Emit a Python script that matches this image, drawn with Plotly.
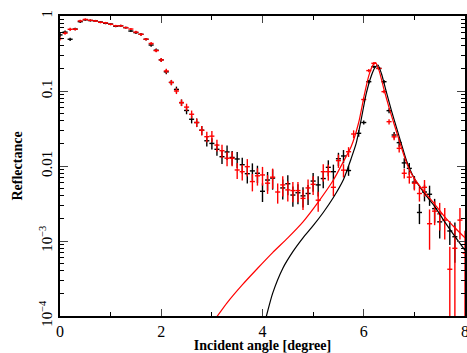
import plotly.graph_objects as go

# ---------------- data ----------------
angle = [round(0.1 * i, 1) for i in range(81)]  # 0.0 ... 8.0 deg, one point per 0.1 deg bin

red_refl = [
    0.50, 0.59, 0.665, 0.665, 0.86, 0.90, 0.876, 0.86, 0.824, 0.81,
    0.775, 0.74, 0.74, 0.70, 0.67, 0.61, 0.57, 0.49, 0.43, 0.345,
    0.26, 0.185, 0.13, 0.10, 0.07, 0.061, 0.049, 0.038, 0.030, 0.0246,
    0.025, 0.019, 0.016, 0.0127, 0.0127, 0.00885, 0.0084, 0.0098, 0.0062, 0.0074,
    0.0076, 0.0059, 0.0071, 0.0045, 0.0056, 0.0048, 0.0047, 0.0047, 0.0037, 0.0051,
    0.0057, 0.0035, 0.0084, 0.0084, 0.0052, 0.0118, 0.0088, 0.0155, 0.0267, None,
    0.077, 0.187, 0.234, 0.20, 0.098, 0.039, 0.0245, 0.0172, 0.008, 0.0071,
    0.0059, 0.0043, 0.0052, 0.0017, 0.0025, 0.0023, 0.0019, 0.00042, 0.0008, 0.0019,
    0.00069,
]
red_relerr = [
    0.06, 0.05, 0.05, 0.04, 0.04, 0.03, 0.03, 0.03, 0.03, 0.03,
    0.03, 0.03, 0.03, 0.03, 0.03, 0.04, 0.04, 0.04, 0.05, 0.05,
    0.06, 0.07, 0.08, 0.09, 0.10, 0.11, 0.12, 0.13, 0.14, 0.16,
    0.17, 0.18, 0.20, 0.22, 0.22, 0.24, 0.24, 0.26, 0.26, 0.26,
    0.28, 0.28, 0.30, 0.30, 0.30, 0.30, 0.30, 0.30, 0.30, 0.30,
    0.28, 0.30, 0.26, 0.24, 0.24, 0.20, 0.20, 0.15, 0.12, 0.10,
    0.06, 0.05, 0.04, 0.04, 0.05, 0.08, 0.10, 0.12, 0.15, 0.18,
    0.20, 0.22, 0.25, 0.55, 0.35, 0.40, 0.45, 0.99, 0.99, 0.45,
    0.99,
]

black_refl = [
    0.56, 0.61, 0.49, 0.67, 0.84, 0.89, 0.87, 0.86, 0.83, 0.80,
    0.78, 0.73, 0.74, 0.70, 0.63, 0.60, 0.57, 0.49, 0.41, 0.35,
    0.26, 0.18, 0.13, 0.105, 0.07, 0.055, 0.042, 0.038, 0.030, 0.0217,
    0.020, 0.0167, 0.0133, 0.0154, 0.013, 0.0124, 0.0104, 0.0079, 0.0086, 0.0080,
    0.0046, 0.0065, 0.0069, None, 0.0051, 0.0058, 0.0041, 0.0044, 0.0040, 0.0043,
    0.0063, 0.0056, 0.0068, 0.0096, 0.0084, 0.0125, 0.0136, 0.0087, None, 0.0273,
    0.038, 0.133, 0.211, 0.20, 0.133, 0.0547, 0.0259, 0.0205, 0.011, 0.0093,
    0.0061, 0.0024, 0.0045, 0.0042, 0.0027, 0.0018, None, 0.00136, 0.00114, None,
    None,
]
black_relerr = [
    0.06, 0.05, 0.05, 0.04, 0.04, 0.03, 0.03, 0.03, 0.03, 0.03,
    0.03, 0.03, 0.03, 0.03, 0.03, 0.04, 0.04, 0.04, 0.05, 0.05,
    0.06, 0.07, 0.08, 0.09, 0.10, 0.11, 0.12, 0.13, 0.14, 0.16,
    0.17, 0.18, 0.20, 0.22, 0.22, 0.24, 0.24, 0.26, 0.26, 0.26,
    0.28, 0.28, 0.30, 0.30, 0.30, 0.30, 0.30, 0.30, 0.30, 0.30,
    0.28, 0.30, 0.26, 0.24, 0.24, 0.20, 0.20, 0.15, 0.12, 0.10,
    0.06, 0.05, 0.04, 0.04, 0.05, 0.08, 0.10, 0.12, 0.15, 0.18,
    0.20, 0.30, 0.25, 0.30, 0.35, 0.40, 0.45, 0.35, 0.55, 0.45,
    0.45,
]
bin_halfwidth = 0.05

# model curves
black_model_x = [4.06, 4.2, 4.4, 4.6, 4.8, 5.0, 5.2, 5.4, 5.6, 5.75, 5.85, 5.95, 6.05,
                 6.15, 6.22, 6.28, 6.35, 6.45, 6.55, 6.65, 6.75, 6.85, 7.0, 7.2,
                 7.4, 7.6, 7.8, 8.0]
black_model_y = [9e-5, 2.0e-4, 4.3e-4, 7.2e-4, 1.1e-3, 1.6e-3, 2.4e-3, 3.8e-3, 6.6e-3,
                 0.0125, 0.020, 0.042, 0.093, 0.16, 0.205, 0.222, 0.17, 0.095, 0.054,
                 0.032, 0.019, 0.0115, 0.0068, 0.0043, 0.0029, 0.0018, 0.00115, 0.00075]
red_model_x = [3.06, 3.3, 3.6, 3.9, 4.2, 4.5, 4.8, 5.1, 5.4, 5.6, 5.75, 5.9, 6.01,
               6.1, 6.17, 6.23, 6.3, 6.4, 6.5, 6.6, 6.7, 6.8, 6.9, 7.0, 7.2, 7.4,
               7.6, 7.8, 8.0]
red_model_y = [9e-5, 1.5e-4, 2.6e-4, 4.3e-4, 7.0e-4, 1.1e-3, 1.8e-3, 3.3e-3, 6.5e-3,
               0.0115, 0.018, 0.038, 0.088, 0.16, 0.215, 0.239, 0.19, 0.105, 0.06,
               0.036, 0.022, 0.0135, 0.009, 0.0068, 0.0045, 0.0031, 0.0021, 0.0015,
               0.0011]

y_tickvals = [1e-4, 1e-3, 1e-2, 1e-1, 1]
y_ticktext = ["10<sup>\u22124</sup>", "10<sup>\u22123</sup>", "0.01", "0.1", "1"]
x_tickvals = [0, 2, 4, 6, 8]

# ---------------- figure ----------------
def errs(vals, rel):
    return [None if v is None else v * r for v, r in zip(vals, rel)]

fig = go.Figure()

for vals, rel, col in [(black_refl, black_relerr, "black"), (red_refl, red_relerr, "red")]:
    fig.add_trace(go.Scatter(
        x=angle, y=vals, mode="markers",
        marker=dict(size=1, color=col, opacity=0),
        error_y=dict(type="data", array=errs(vals, rel), visible=True,
                     thickness=1.4, width=0, color=col),
        error_x=dict(type="constant", value=bin_halfwidth, visible=True,
                     thickness=1.4, width=0, color=col),
        showlegend=False, hoverinfo="x+y",
    ))

fig.add_trace(go.Scatter(x=black_model_x, y=black_model_y, mode="lines",
                         line=dict(color="black", width=1.2, shape="spline", smoothing=0.6),
                         showlegend=False))
fig.add_trace(go.Scatter(x=red_model_x, y=red_model_y, mode="lines",
                         line=dict(color="red", width=1.2, shape="spline", smoothing=0.6),
                         showlegend=False))

font_family = "Liberation Serif, Times New Roman, serif"

fig.update_layout(
    width=467, height=353,
    margin=dict(l=59.5, r=2, t=16, b=37, pad=0),
    paper_bgcolor="white", plot_bgcolor="white",
    font=dict(family=font_family, color="black", size=15),
    xaxis=dict(
        range=[0, 8], tickvals=x_tickvals, ticks="inside", ticklen=7, tickwidth=1.3,
        showline=True, linecolor="black", linewidth=1.5, mirror="allticks",
        showgrid=False, zeroline=False, ticklabeloverflow="allow",
        tickfont=dict(size=16, family=font_family),
        minor=dict(tickvals=[1, 3, 5, 7], ticks="inside", ticklen=4, tickwidth=1.1,
                   tickcolor="black", showgrid=False),
        title=dict(text="<b>Incident angle [degree]</b>", standoff=6,
                   font=dict(size=14, family=font_family)),
        automargin=False,
    ),
    yaxis=dict(
        type="log", range=[-4, 0], tickvals=y_tickvals, ticktext=y_ticktext,
        tickangle=-90, ticks="inside", ticklen=8, tickwidth=1.3,
        showline=True, linecolor="black", linewidth=1.5, mirror="allticks",
        showgrid=False, zeroline=False, ticklabeloverflow="allow",
        tickfont=dict(size=15, family=font_family),
        minor=dict(ticks="inside", ticklen=4, tickwidth=1.1, tickcolor="black",
                   showgrid=False, dtick="D1"),
        title=dict(text="<b>Reflectance</b>", standoff=11,
                   font=dict(size=14, family=font_family)),
        automargin=False,
    ),
)

# remove the browser's default 8 px page margin so the figure fills the window exactly
fig.write_html(
    "out.html",
    config={"displayModeBar": False},
    post_script="document.body.style.margin='0';document.body.style.overflow='hidden';",
)
